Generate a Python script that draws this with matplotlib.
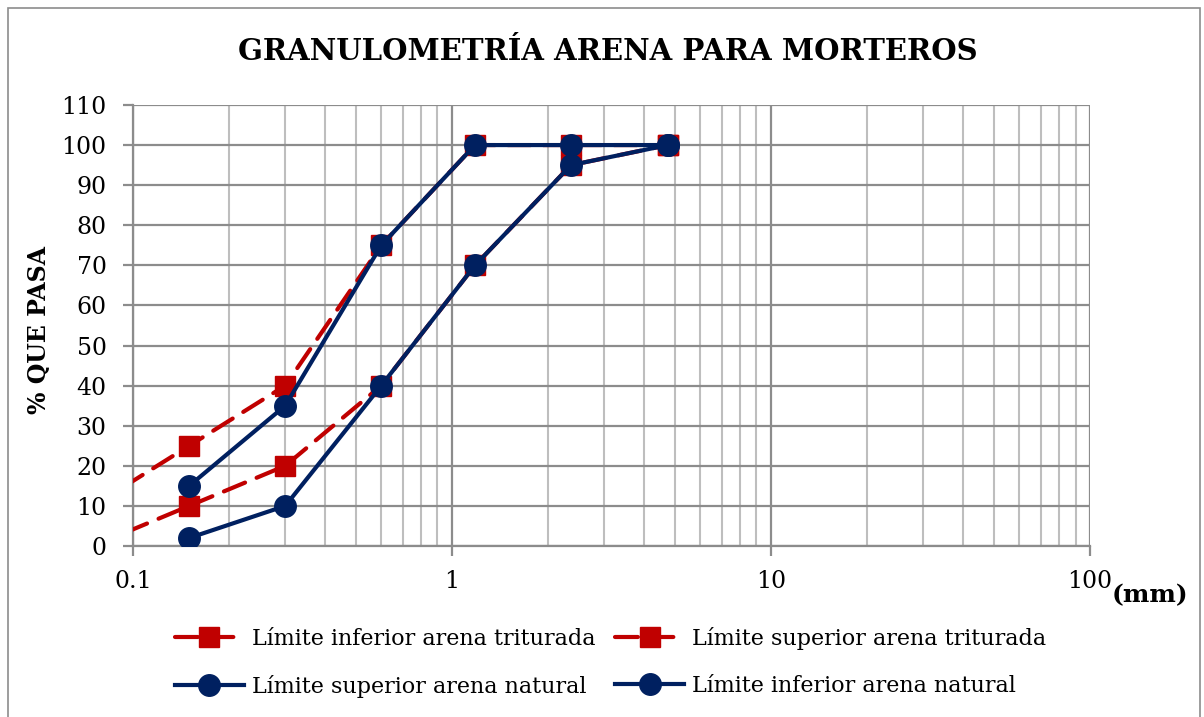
import matplotlib
matplotlib.use("Agg")
import matplotlib.pyplot as plt
from matplotlib.patches import Rectangle
from matplotlib.ticker import LogLocator, FixedLocator, NullFormatter, FuncFormatter

plt.rcParams['font.family'] = ['DejaVu Serif']

# Sieve sizes (mm)
sizes_trit = [0.075, 0.15, 0.3, 0.6, 1.18, 2.36, 4.75]
inf_trit = [0, 10, 20, 40, 70, 95, 100]
sup_trit = [10, 25, 40, 75, 100, 100, 100]

sizes_nat = [0.15, 0.3, 0.6, 1.18, 2.36, 4.75]
sup_nat = [15, 35, 75, 100, 100, 100]
inf_nat = [2, 10, 40, 70, 95, 100]

title = "GRANULOMETRÍA ARENA PARA MORTEROS"
ylabel = "% QUE PASA"
xlabel = "(mm)"
labels = ["Límite inferior arena triturada", "Límite superior arena triturada",
          "Límite superior arena natural", "Límite inferior arena natural"]
x_ticks = [0.1, 1, 10, 100]
x_ticklabels = ["0.1", "1", "10", "100"]
y_ticks = list(range(0, 111, 10))

RED = "#C00000"
BLUE = "#002060"

fig = plt.figure(figsize=(12.04, 7.17), dpi=100)
ax = fig.add_axes([0.1105, 0.2385, 0.7949, 0.6151])

lw = 3.0
ms = 15.5
l1, = ax.plot(sizes_trit, inf_trit, color=RED, lw=lw, dashes=(5.5, 3), marker='s', ms=ms - 1,
              mfc=RED, mec=RED, zorder=3, dash_capstyle='round', label=labels[0])
l2, = ax.plot(sizes_trit, sup_trit, color=RED, lw=lw, dashes=(5.5, 3), marker='s', ms=ms - 1,
              mfc=RED, mec=RED, zorder=3, dash_capstyle='round', label=labels[1])
l3, = ax.plot(sizes_nat, sup_nat, color=BLUE, lw=lw, marker='o', ms=ms,
              mfc=BLUE, mec=BLUE, zorder=4, label=labels[2])
l4, = ax.plot(sizes_nat, inf_nat, color=BLUE, lw=lw, marker='o', ms=ms,
              mfc=BLUE, mec=BLUE, zorder=4, label=labels[3])

ax.set_xscale('log')
ax.set_xlim(0.1, 100)
ax.set_ylim(0, 110)
ax.xaxis.set_major_locator(FixedLocator(x_ticks))
ax.xaxis.set_major_formatter(FuncFormatter(lambda v, p: x_ticklabels[x_ticks.index(v)] if v in x_ticks else ""))
ax.xaxis.set_minor_locator(LogLocator(base=10, subs=range(2, 10)))
ax.xaxis.set_minor_formatter(NullFormatter())
ax.set_yticks(y_ticks)

ax.grid(True, which='major', axis='both', color='#8C8C8C', lw=1.6, zorder=0)
ax.grid(True, which='minor', axis='x', color='#BEBEBE', lw=1.5, zorder=0)
ax.set_axisbelow(True)

for s in ['top', 'right']:
    ax.spines[s].set_visible(False)
for s in ['left', 'bottom']:
    ax.spines[s].set_color('#8C8C8C')
    ax.spines[s].set_linewidth(1.6)

ax.tick_params(axis='both', which='major', length=7, width=1.6, color='#8C8C8C',
               labelsize=17)
ax.tick_params(axis='y', which='major', pad=12)
ax.tick_params(axis='x', which='minor', length=0)
ax.tick_params(axis='x', which='major', pad=10)

ax.set_ylabel(ylabel, fontsize=17, fontweight='bold')
ax.yaxis.set_label_coords(-0.0857, 0.49)
fig.text(0.955, 0.17, xlabel, fontsize=18, fontweight='bold', ha='center', va='center')

fig.text(0.505, 0.928, title, fontsize=21, fontweight='bold', ha='center', va='center')

fig.legend(handles=[l1, l3, l2, l4], loc='center', bbox_to_anchor=(0.507, 0.076), ncol=2,
           frameon=False, fontsize=16, handlelength=3.1, columnspacing=0.9,
           labelspacing=1.12, handletextpad=0.35)

fig.patches.append(Rectangle((0.007, -0.01), 0.99, 0.999, transform=fig.transFigure,
                             fill=False, edgecolor='#8C8C8C', lw=1.2))

fig.savefig("out.png", dpi=100)
